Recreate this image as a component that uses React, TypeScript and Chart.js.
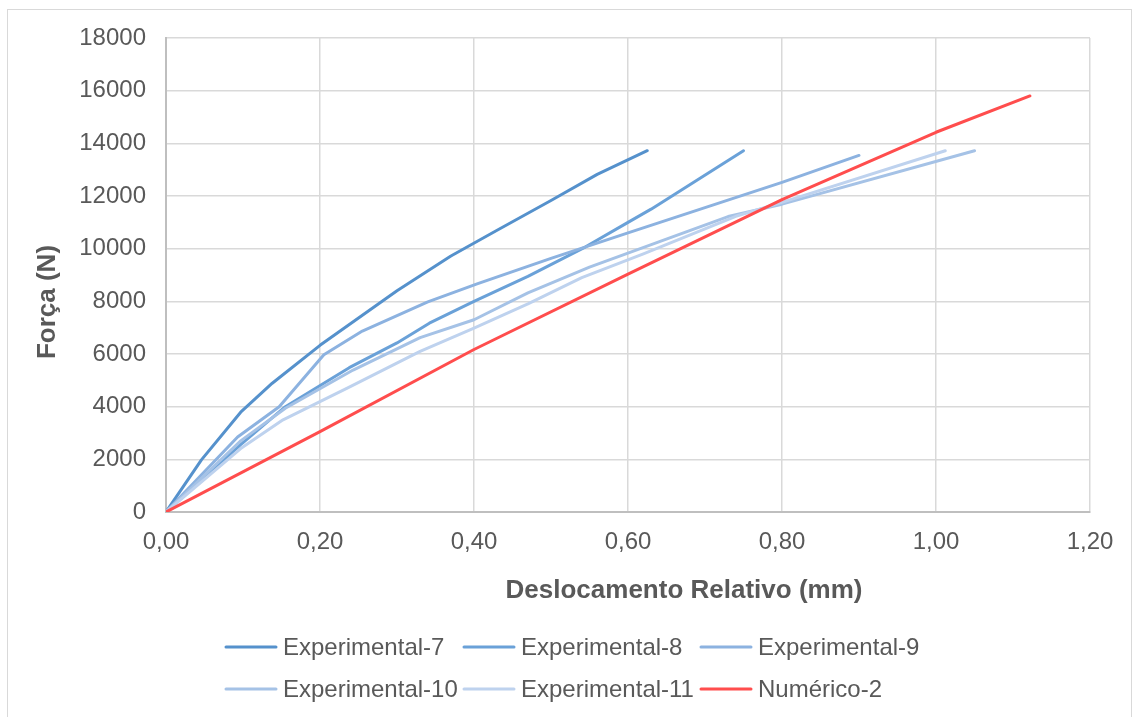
import { useEffect, useRef } from 'react';
import { Chart, registerables } from 'chart.js';

Chart.register(...registerables);

// ---- Data ----
const seriesNames = [
  'Experimental-7',
  'Experimental-8',
  'Experimental-9',
  'Experimental-10',
  'Experimental-11',
  'Numérico-2',
];

const exp7X = [0, 0.046, 0.097, 0.138, 0.2, 0.3, 0.37, 0.43, 0.5, 0.56, 0.625];
const exp7Y = [0, 1980, 3790, 4890, 6330, 8400, 9720, 10700, 11830, 12820, 13720];

const exp8X = [0, 0.097, 0.155, 0.238, 0.3, 0.342, 0.4, 0.47, 0.545, 0.6, 0.63, 0.75];
const exp8Y = [0, 2560, 4000, 5480, 6420, 7170, 8000, 8950, 10070, 11000, 11500, 13720];

const exp9X = [0, 0.093, 0.147, 0.205, 0.255, 0.34, 0.404, 0.5, 0.6, 0.7, 0.8, 0.9];
const exp9Y = [0, 2850, 4000, 5970, 6870, 7980, 8660, 9630, 10600, 11560, 12520, 13540];

const exp10X = [0, 0.097, 0.155, 0.243, 0.33, 0.4, 0.47, 0.55, 0.64, 0.73, 0.8, 1.05];
const exp10Y = [0, 2700, 3940, 5390, 6620, 7300, 8320, 9300, 10260, 11220, 11690, 13720];

const exp11X = [0, 0.097, 0.152, 0.238, 0.33, 0.4, 0.47, 0.54, 0.62, 0.74, 0.8, 1.012];
const exp11Y = [0, 2410, 3500, 4740, 6100, 6980, 7900, 8900, 9800, 11230, 11760, 13720];

const num2X = [0, 0.2, 0.4, 0.6, 0.8, 1.0, 1.122];
const num2Y = [0, 3050, 6170, 9030, 11860, 14420, 15800];

const xTickLabels = ['0,00', '0,20', '0,40', '0,60', '0,80', '1,00', '1,20'];
const yTickLabels = ['0', '2000', '4000', '6000', '8000', '10000', '12000', '14000', '16000', '18000'];

const xTitle = 'Deslocamento Relativo (mm)';
const yTitle = 'Força (N)';

const seriesColors = ['#5591CC', '#6AA1D8', '#8CB2E0', '#A5C2E6', '#BED2EE', '#FF4D4D'];

const FONT = '"Liberation Sans", Arial, sans-serif';
const TEXT_COLOR = '#595959';

const zip = (xs: number[], ys: number[]) => xs.map((x, i) => ({ x, y: ys[i] }));

// Axis titles (positioned like the original Excel chart)
const axisTitlesPlugin = {
  id: 'axisTitles',
  afterDraw(chart: any) {
    const ctx = chart.ctx;
    ctx.save();
    ctx.fillStyle = TEXT_COLOR;
    ctx.font = `bold 26px ${FONT}`;
    ctx.textAlign = 'center';
    ctx.textBaseline = 'middle';
    ctx.fillText(xTitle, 684, 591);
    ctx.translate(48, 302);
    ctx.rotate(-Math.PI / 2);
    ctx.fillText(yTitle, 0, 0);
    ctx.restore();
  },
};

// Grid-style legend (3 columns x 2 rows) as in the Excel original
const gridLegendPlugin = {
  id: 'gridLegend',
  afterDraw(chart: any) {
    const ctx = chart.ctx;
    const colX = [225, 463, 700];
    const rowY = [647, 689];
    ctx.save();
    ctx.font = `24px ${FONT}`;
    ctx.textAlign = 'left';
    ctx.textBaseline = 'middle';
    chart.data.datasets.forEach((ds: any, i: number) => {
      const x = colX[i % 3];
      const y = rowY[Math.floor(i / 3)];
      ctx.strokeStyle = ds.borderColor;
      ctx.lineWidth = 3;
      ctx.lineCap = 'round';
      ctx.beginPath();
      ctx.moveTo(x + 1, y);
      ctx.lineTo(x + 51, y);
      ctx.stroke();
      ctx.fillStyle = TEXT_COLOR;
      ctx.fillText(ds.label, x + 58, y + 1);
    });
    ctx.restore();
  },
};

export default function App() {
  const canvasRef = useRef<HTMLCanvasElement | null>(null);

  useEffect(() => {
    if (!canvasRef.current) return;
    const xs = [exp7X, exp8X, exp9X, exp10X, exp11X, num2X];
    const ys = [exp7Y, exp8Y, exp9Y, exp10Y, exp11Y, num2Y];
    const datasets = seriesNames.map((name, i) => ({
      label: name,
      data: zip(xs[i], ys[i]),
      borderColor: seriesColors[i],
      backgroundColor: seriesColors[i],
      borderWidth: 3,
      pointRadius: 0,
      pointHoverRadius: 0,
      tension: 0,
      fill: false,
      borderCapStyle: 'round' as const,
      borderJoinStyle: 'round' as const,
      order: seriesNames.length - 1 - i,
    }));

    const chart = new Chart(canvasRef.current, {
      type: 'line',
      data: { datasets },
      plugins: [axisTitlesPlugin, gridLegendPlugin],
      options: {
        animation: false,
        responsive: false,
        layout: { padding: { left: 52, right: 48, top: 38, bottom: 100 } },
        plugins: {
          tooltip: { enabled: false },
          legend: { display: false },
        },
        scales: {
          x: {
            type: 'linear',
            min: 0,
            max: 1.2,
            afterFit: (scale: any) => {
              scale.height = 105;
            },
            ticks: {
              stepSize: 0.2,
              color: TEXT_COLOR,
              font: { family: FONT, size: 24 },
              padding: 16,
              maxRotation: 0,
              callback: (_v: any, i: number) => xTickLabels[i],
            },
            grid: { color: '#d9d9d9', lineWidth: 1.5, drawTicks: false },
            border: { display: true, color: '#bfbfbf', width: 2 },
          },
          y: {
            type: 'linear',
            min: 0,
            max: 18000,
            afterFit: (scale: any) => {
              scale.width = 166 - 52;
            },
            ticks: {
              stepSize: 2000,
              color: TEXT_COLOR,
              font: { family: FONT, size: 24 },
              padding: 20,
              callback: (_v: any, i: number) => yTickLabels[i],
            },
            grid: { color: '#d9d9d9', lineWidth: 1.5, drawTicks: false },
            border: { display: true, color: '#bfbfbf', width: 2 },
          },
        },
      },
    });
    return () => chart.destroy();
  }, []);

  return (
    <div
      style={{
        position: 'fixed',
        left: 0,
        top: 0,
        width: 1138,
        height: 717,
        overflow: 'hidden',
        background: '#ffffff',
      }}
    >
      <div
        style={{
          position: 'absolute',
          left: 7,
          top: 9,
          width: 1125,
          height: 740,
          border: '1px solid #d9d9d9',
          boxSizing: 'border-box',
        }}
      />
      <canvas
        ref={canvasRef}
        width={1138}
        height={717}
        style={{ position: 'absolute', left: 0, top: 0, width: 1138, height: 717 }}
      />
    </div>
  );
}
